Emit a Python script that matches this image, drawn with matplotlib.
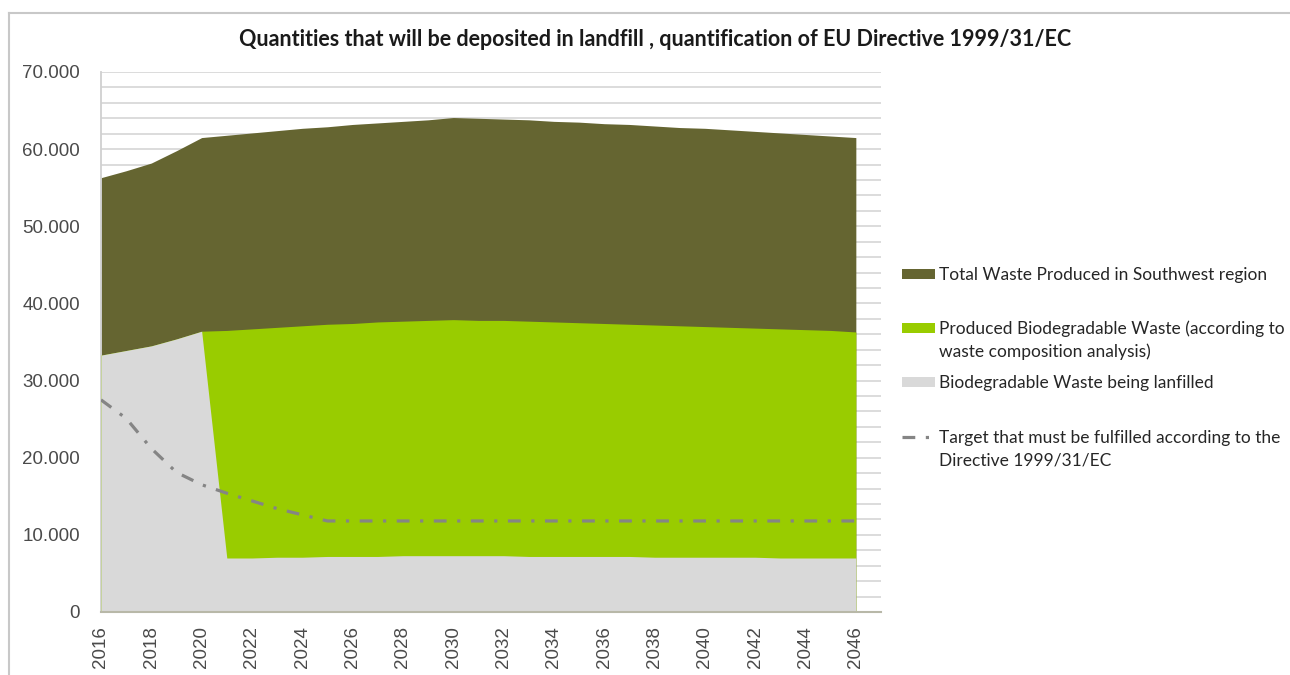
import matplotlib
matplotlib.use("Agg")
import matplotlib.pyplot as plt
from matplotlib.patches import Rectangle
from matplotlib.lines import Line2D
from matplotlib.ticker import FuncFormatter, MultipleLocator

years = list(range(2016, 2047))

total_waste = [56.3, 57.2, 58.2, 59.8, 61.5, 61.8, 62.1, 62.4, 62.7, 62.9,
               63.2, 63.4, 63.6, 63.8, 64.1, 64.0, 63.9, 63.8, 63.6, 63.5,
               63.3, 63.2, 63.0, 62.8, 62.7, 62.5, 62.3, 62.1, 61.9, 61.7, 61.5]

biodegradable = [33.3, 33.9, 34.5, 35.4, 36.4, 36.5, 36.7, 36.9, 37.1, 37.3,
                 37.4, 37.6, 37.7, 37.8, 37.9, 37.8, 37.8, 37.7, 37.6, 37.5,
                 37.4, 37.3, 37.2, 37.1, 37.0, 36.9, 36.8, 36.7, 36.6, 36.5, 36.3]

landfilled = [33.3, 33.9, 34.5, 35.4, 36.4, 7.0, 7.0, 7.1, 7.1, 7.2,
              7.2, 7.2, 7.3, 7.3, 7.3, 7.3, 7.3, 7.2, 7.2, 7.2,
              7.2, 7.2, 7.1, 7.1, 7.1, 7.1, 7.1, 7.0, 7.0, 7.0, 7.0]

target = [27.5, 25.1, 21.2, 18.1, 16.5, 15.4, 14.4, 13.4, 12.6, 11.8,
          11.8, 11.8, 11.8, 11.8, 11.8, 11.8, 11.8, 11.8, 11.8, 11.8,
          11.8, 11.8, 11.8, 11.8, 11.8, 11.8, 11.8, 11.8, 11.8, 11.8, 11.8]

labels = [
    "Total Waste Produced in Southwest region",
    "Produced Biodegradable Waste (according to\nwaste composition analysis)",
    "Biodegradable Waste being lanfilled",
    "Target that must be fulfilled according to the\nDirective 1999/31/EC",
]

title = "Quantities that will be deposited in landfill , quantification of EU Directive 1999/31/EC"

c_total = "#656531"
c_bio = "#99cc00"
c_land = "#d9d9d9"
c_target = "#858585"

W, H = 1290, 675
fig = plt.figure(figsize=(W / 100, H / 100), dpi=100)
ax = fig.add_axes([101 / W, 1 - 612 / H, 780 / W, 540 / H])

scale = 1000
ax.fill_between(years, 0, [v * scale for v in total_waste], color=c_total, lw=0, zorder=2)
ax.fill_between(years, 0, [v * scale for v in biodegradable], color=c_bio, lw=0, zorder=3)
ax.fill_between(years, 0, [v * scale for v in landfilled], color=c_land, lw=0, zorder=4)
dash = (0, (4, 3.3, 1, 3.3))
ax.plot(years, [v * scale for v in target], color=c_target, lw=2.3,
        linestyle=dash, dash_capstyle="butt", zorder=5)

ax.set_xlim(2016, 2047)
ax.set_ylim(0, 70000)
ax.yaxis.set_major_locator(MultipleLocator(10000))
ax.yaxis.set_minor_locator(MultipleLocator(2000))
ax.set_xticks(list(range(2016, 2047, 2)))
ax.yaxis.set_major_formatter(FuncFormatter(
    lambda v, p: "0" if v == 0 else f"{int(v):,}".replace(",", ".")))
ax.grid(axis="y", which="both", color="#d9d9d9", lw=1.3, zorder=1)
ax.set_axisbelow(True)
for s in ("top", "right"):
    ax.spines[s].set_visible(False)
ax.spines["left"].set_color("#d0d0d0")
ax.spines["left"].set_linewidth(1.3)
ax.spines["bottom"].set_color("#b8b8a8")
ax.spines["bottom"].set_linewidth(1.5)
ax.spines["bottom"].set_zorder(6)
ax.tick_params(axis="both", which="both", length=0)
ax.tick_params(axis="y", pad=15)
ax.tick_params(axis="x", pad=10)
for lab in ax.get_yticklabels() + ax.get_xticklabels():
    lab.set_fontfamily("Liberation Sans")
    lab.set_fontsize(13.5)
    lab.set_color("#4a4a4a")
for lab in ax.get_xticklabels():
    lab.set_rotation(90)

fig.text(655 / W, 1 - 40 / H, title, ha="center", va="center",
         fontsize=15.5, fontweight="bold", family="Lato", color="#1a1a1a")

# chart frame (left and top edges)
fig.add_artist(Line2D([9 / W, 9 / W], [0, 1 - 13 / H],
                      transform=fig.transFigure, color="#c8c8c8", lw=1.5))
fig.add_artist(Line2D([9 / W, 1], [1 - 13 / H, 1 - 13 / H],
                      transform=fig.transFigure, color="#c8c8c8", lw=1.5))

# legend
entries = [(274, c_total, "patch"), (328, c_bio, "patch"),
           (382, c_land, "patch"), (437, c_target, "line")]
for (yc, col, kind), text in zip(entries, labels):
    if kind == "patch":
        fig.add_artist(Rectangle((902 / W, 1 - (yc + 5) / H), 33 / W, 10 / H,
                                 transform=fig.transFigure, color=col, lw=0))
    else:
        fig.add_artist(Line2D([902 / W, 935 / W], [1 - yc / H, 1 - yc / H],
                              transform=fig.transFigure, color=col, lw=2.3,
                              linestyle=dash, dash_capstyle="butt"))
    for i, line in enumerate(text.split("\n")):
        fig.text(939 / W, 1 - (yc + 6 + 23 * i) / H, line, ha="left",
                 va="baseline", fontsize=12.5, family="Lato", color="#262626")

fig.savefig("out.png", dpi=100, facecolor="white")
